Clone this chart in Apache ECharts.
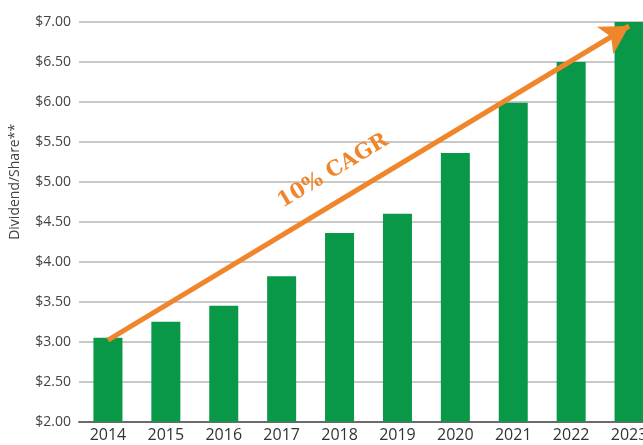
<!DOCTYPE html>
<html>
<head>
<meta charset="utf-8">
<script src="https://cdn.jsdelivr.net/npm/echarts@6/dist/echarts.min.js"></script>
<style>html,body{margin:0;padding:0;background:#fff;overflow:hidden;width:643px;height:445px}#c{width:658px;height:445px}</style>
</head>
<body>
<div id="c"></div>
<script>
const years = ['2014','2015','2016','2017','2018','2019','2020','2021','2022','2023'];
const dividends = [3.05, 3.25, 3.45, 3.82, 4.36, 4.60, 5.36, 5.99, 6.50, 7.00];
const yTicks = {min: 2, max: 7, interval: 0.5};
const cagrLabel = '10% CAGR';
const cagrStart = [-0.05, 3.02];
const cagrEnd = [8.83, 6.95];
const axisName = 'Dividend/Share**';

const chart = echarts.init(document.getElementById('c'), null, {renderer: 'canvas'});
chart.setOption({
  animation: false,
  grid: {left: 79, right: 0, top: 22, bottom: 23.3, containLabel: false},
  xAxis: {
    type: 'category',
    data: years,
    axisTick: {show: false},
    axisLine: {lineStyle: {color: '#6b6b6b', width: 2}},
    axisLabel: {color: '#333', fontSize: 16, fontFamily: 'Open Sans', margin: 6}
  },
  yAxis: {
    type: 'value',
    min: yTicks.min, max: yTicks.max, interval: yTicks.interval,
    name: axisName,
    nameLocation: 'middle',
    nameGap: 57,
    nameTextStyle: {color: '#444', fontSize: 14, fontFamily: 'Open Sans', padding: [0, 0, 0, 80]},
    axisLine: {show: false},
    axisTick: {show: false},
    splitLine: {lineStyle: {color: '#c8c8c8', width: 2}},
    axisLabel: {color: '#444', fontSize: 14, fontFamily: 'Open Sans', margin: 8,
      formatter: v => '$' + v.toFixed(2)}
  },
  series: [{
    type: 'bar',
    data: dividends,
    barWidth: 29,
    itemStyle: {color: '#089848'},
    markLine: {
      silent: true,
      symbol: ['none', 'arrow'],
      symbolSize: [24, 28],
      lineStyle: {color: '#F0862C', width: 5, type: 'solid', opacity: 1},
      label: {
        show: true,
        position: 'insideMiddleTop',
        distance: 18,
        padding: [0, 48, 0, 0],
        formatter: cagrLabel,
        color: '#F0862C',
        fontSize: 21,
        fontWeight: 'bold',
        fontFamily: 'DejaVu Serif'
      },
      data: [[{coord: cagrStart}, {coord: cagrEnd}]]
    }
  }]
});
</script>
</body>
</html>
